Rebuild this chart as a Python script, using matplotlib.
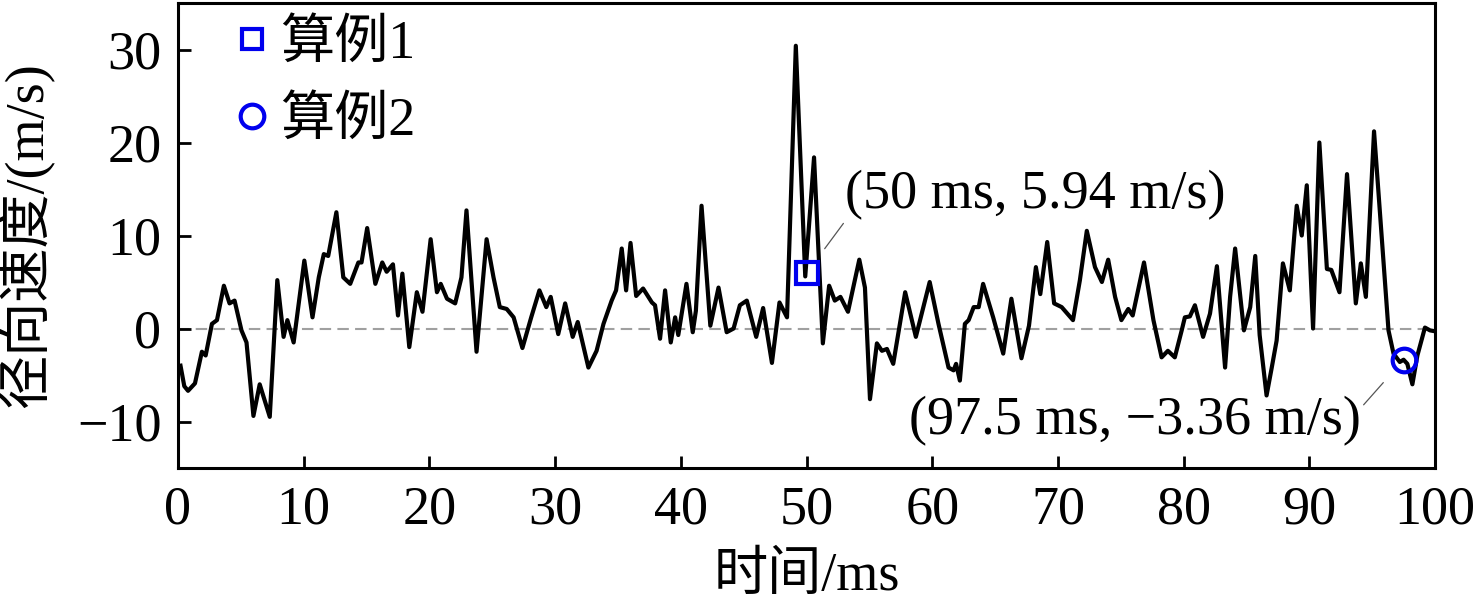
import matplotlib
matplotlib.use("Agg")
import matplotlib.pyplot as plt
from matplotlib.lines import Line2D
import numpy as np

plt.rcParams['font.family'] = ['Liberation Serif', 'Noto Sans CJK SC']
plt.rcParams['axes.unicode_minus'] = True

# time (ms) and radial velocity (m/s)
t_ms = [0.2, 0.5, 0.8, 1.35, 1.9, 2.2, 2.7, 3.1, 3.65, 4.1, 4.5, 5.05, 5.45,
        6.0, 6.5, 7.3, 7.9, 8.4, 8.7, 9.2,
        10.05, 10.7, 11.2, 11.6, 11.95, 12.6, 13.15, 13.7, 14.35, 14.6, 15.05,
        15.7, 16.25, 16.6, 17.1, 17.5, 17.85, 18.4, 19.0, 19.45,
        20.1, 20.6, 20.9, 21.4, 22.05, 22.55, 22.95, 23.75, 24.55, 25.1, 25.6,
        26.15, 26.7, 27.4, 28.1, 28.75, 29.3, 29.65,
        30.25, 30.8, 31.4, 31.8, 32.65, 33.3, 33.85, 34.5, 34.85, 35.3, 35.65,
        36.0, 36.45, 37.0, 37.7, 37.95, 38.35, 38.75, 39.2, 39.55, 39.8,
        40.45, 40.95, 41.2, 41.65, 42.35, 43.0, 43.65, 44.2, 44.7, 45.25, 46.0,
        46.55, 47.25, 47.85, 48.45, 49.15, 49.9,
        50.6, 51.3, 51.8, 52.25, 52.7, 53.3, 54.2, 54.65, 55.05, 55.6, 56.0,
        56.4, 56.9, 57.85, 58.7, 59.8,
        60.5, 61.3, 61.7, 61.9, 62.2, 62.6, 62.9, 63.3, 63.7, 64.05, 64.85,
        65.65, 66.3, 67.1, 67.7, 68.25, 68.6, 69.15, 69.7,
        70.3, 71.2, 71.75, 72.3, 72.95, 73.5, 74.0, 74.55, 75.05, 75.6, 75.95,
        76.85, 77.6, 78.25, 78.75, 79.3, 79.85,
        80.1, 80.5, 80.9, 81.55, 82.1, 82.65, 83.3, 83.7, 84.1, 84.8, 85.3,
        85.7, 86.05, 86.6, 87.0, 87.4, 87.9, 88.45, 89.0, 89.4, 89.8,
        90.3, 90.8, 91.4, 91.75, 92.4, 93.0, 93.7, 94.1, 94.5, 95.15, 96.3,
        96.7, 97.2, 97.5, 97.8, 98.2, 98.6, 99.2, 99.6, 100.0]
v_ms = [-4.0, -6.2, -6.7, -5.9, -2.5, -2.9, 0.5, 0.9, 4.6, 2.7, 3.0, -0.2, -1.5,
        -9.4, -6.0, -9.5, 5.2, -0.9, 0.9, -1.5,
        7.3, 1.2, 5.5, 8.0, 7.8, 12.5, 5.5, 4.8, 7.1, 7.1, 10.8,
        4.8, 7.1, 6.1, 6.9, 1.4, 5.9, -2.0, 3.9, 1.8,
        9.6, 3.9, 4.8, 3.2, 2.7, 5.5, 12.7, -2.5, 9.6, 5.5, 2.3,
        2.1, 1.2, -2.1, 1.2, 4.1, 2.3, 3.4,
        -0.6, 2.7, -0.9, 0.7, -4.2, -2.4, 0.5, 3.0, 4.1, 8.6, 4.1,
        9.2, 3.5, 4.3, 2.8, 2.5, -1.1, 4.1, -1.5, 1.2, -0.7,
        4.8, -0.4, 1.9, 13.2, 0.3, 4.4, -0.4, 0.0, 2.5, 3.0, -0.9,
        2.2, -3.7, 2.8, 1.2, 30.4, 5.6,
        18.4, -1.6, 4.6, 3.0, 3.4, 1.8, 7.4, 4.4, -7.6, -1.6, -2.4,
        -2.2, -3.8, 3.9, -0.9, 5.0,
        0.5, -4.2, -4.5, -3.8, -5.6, 0.5, 0.9, 2.3, 2.3, 4.8, 1.2,
        -2.7, 3.2, -3.2, 0.3, 6.6, 3.7, 9.3, 2.7,
        2.3, 0.9, 5.2, 10.5, 6.6, 5.0, 7.4, 3.4, 0.9, 2.1, 1.4,
        7.1, 0.9, -3.1, -2.4, -3.1, -0.2,
        1.2, 1.3, 2.5, -0.9, 1.6, 6.7, -4.2, 3.4, 8.6, -0.2, 2.3,
        7.8, -0.7, -7.2, -4.3, -1.3, 7.0, 4.1, 13.2, 10.0, 15.4,
        0.0, 20.0, 6.4, 6.3, 3.9, 16.6, 2.7, 7.0, 3.4, 21.2, -0.2,
        -2.7, -3.6, -3.36, -3.8, -6.0, -2.9, 0.1, -0.2, -0.3]

case1 = (50.0, 5.94)
case2 = (97.5, -3.36)
labels = ['算例1', '算例2']

fs = 39
blue = '#0000ee'

fig = plt.figure(figsize=(14.76, 6.05), dpi=100)
ax = fig.add_axes([178 / 1476, 137 / 605, 1257 / 1476, 465 / 605])

ax.axhline(0, color='#a0a0a0', lw=1.5, ls=(0, (5.5, 3)), zorder=1)
ax.plot(t_ms, v_ms, color='black', lw=3.0, zorder=2)
ax.plot(*case1, 's', ms=16, mfc='none', mec=blue, mew=3, zorder=3)
ax.plot(*case2, 'o', ms=17, mfc='none', mec=blue, mew=3, zorder=3)

ax.annotate('(50 ms, 5.94 m/s)', xy=case1, xytext=(53.1, 11.6),
            fontsize=fs, ha='left', va='bottom',
            arrowprops=dict(arrowstyle='-', color='#555555', lw=0.9,
                            shrinkA=0, shrinkB=22, relpos=(0, 0)))
ax.annotate('(97.5 ms, \u22123.36 m/s)', xy=case2, xytext=(94.1, -9.9),
            fontsize=fs, ha='right', va='center',
            arrowprops=dict(arrowstyle='-', color='#555555', lw=0.9,
                            shrinkA=0, shrinkB=22, relpos=(1, 0.75)))

ax.set_xlim(0, 100)
ax.set_ylim(-15, 35)
ax.set_xticks(np.arange(0, 101, 10))
ax.set_yticks([-10, 0, 10, 20, 30])
ax.tick_params(direction='in', length=9, width=2, labelsize=fs, pad=12)
for s in ax.spines.values():
    s.set_linewidth(2.2)

ax.set_xlabel('时间/ms', fontsize=fs, labelpad=12)
ax.set_ylabel('径向速度/(m/s)', fontsize=fs, labelpad=16)

handles = [Line2D([], [], ls='none', marker='s', ms=15, mfc='none', mec=blue, mew=3),
           Line2D([], [], ls='none', marker='o', ms=17, mfc='none', mec=blue, mew=3)]
ax.legend(handles, labels, loc='upper left', bbox_to_anchor=(0.024, 1.012), frameon=False,
          fontsize=fs, handlelength=0.8, handletextpad=0.12, labelspacing=0.5,
          borderaxespad=0)

fig.savefig('out.png', dpi=100)
